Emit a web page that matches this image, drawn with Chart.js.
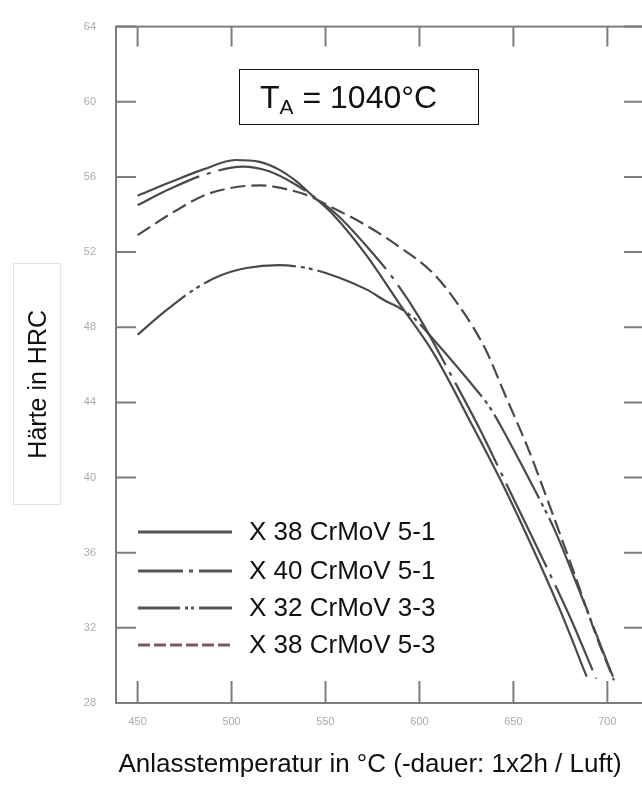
<!DOCTYPE html>
<html lang="de">
<head>
<meta charset="UTF-8">
<title>Anlasskurven</title>
<script src="https://cdn.jsdelivr.net/npm/chart.js@4.4.1/dist/chart.umd.min.js"></script>
<style>
  html, body { margin: 0; padding: 0; background: #fff; overflow: hidden; }
  body { width: 642px; height: 790px; position: relative; font-family: "Liberation Sans", Arial, sans-serif; color: #111; }
  #wrap { position: absolute; left: 0; top: 0; width: 660px; height: 790px; }
  #ta { position: absolute; left: 239px; top: 69px; width: 218px; height: 54px; padding-left: 20px;
        border: 1.5px solid #111; font-size: 32px; line-height: 54px; white-space: nowrap; }
  #ta .sub { font-size: 21px; position: relative; top: 6px; }
  #ytitle { position: absolute; left: 13px; top: 263px; width: 46px; height: 240px; border: 1px solid #e4e4e4;
            display: flex; align-items: center; justify-content: center; }
  #ytitle span { writing-mode: vertical-rl; transform: rotate(180deg); font-size: 25px; white-space: nowrap; }
  #xtitle { position: absolute; left: 70px; top: 748px; width: 600px; text-align: center; font-size: 26px;
            line-height: 30px; white-space: nowrap; }
</style>
</head>
<body>
<div id="wrap"><canvas id="chart" width="660" height="790"></canvas></div>
<div id="ta">T<span class="sub">A</span> = 1040°C</div>
<div id="ytitle"><span>Härte in HRC</span></div>
<div id="xtitle">Anlasstemperatur in °C (-dauer: 1x2h / Luft)</div>
<script>
// axis ticks
var xTicks = [450, 500, 550, 600, 650, 700];
var yTicks = [28, 32, 36, 40, 44, 48, 52, 56, 60, 64];

var names = ['X 38 CrMoV 5-1', 'X 40 CrMoV 5-1', 'X 32 CrMoV 3-3', 'X 38 CrMoV 5-3'];

// X 38 CrMoV 5-1 (solid)
var tempA = [450, 467, 485, 502, 515, 525, 534, 543, 554, 572, 589, 607, 628, 645, 660, 675, 689];
var hrcA  = [55.0, 55.7, 56.4, 56.9, 56.8, 56.4, 55.8, 55.0, 54.0, 51.8, 49.3, 46.7, 42.8, 39.5, 36.3, 32.9, 29.4];

// X 40 CrMoV 5-1 (dash-dot)
var tempB = [450, 467, 485, 506, 520, 534, 543, 556, 572, 586, 600, 616, 632, 648, 664, 680, 694];
var hrcB  = [54.5, 55.35, 56.1, 56.55, 56.3, 55.6, 55.0, 54.0, 52.3, 50.6, 48.5, 45.6, 42.6, 39.3, 36.0, 32.6, 29.3];

// X 32 CrMoV 3-3 (dash-dot-dot)
var tempC = [450, 464, 480, 494, 508, 525, 540, 557, 572, 582, 589, 598, 607, 620, 630, 637, 643, 650, 660, 672, 685, 699, 703];
var hrcC  = [47.6, 48.8, 50.0, 50.75, 51.15, 51.3, 51.15, 50.65, 50.0, 49.4, 49.05, 48.4, 47.4, 45.9, 44.7, 43.8, 42.8, 41.5, 39.6, 37.2, 34.0, 30.4, 29.4];

// X 38 CrMoV 5-3 (dashed)
var tempD = [450, 467, 485, 499, 515, 529, 541, 552, 572, 589, 607, 621, 635, 646, 658, 670, 682, 694, 703.5];
var hrcD  = [52.9, 54.0, 55.0, 55.4, 55.55, 55.35, 55.0, 54.45, 53.4, 52.3, 50.9, 49.15, 46.85, 44.3, 41.5, 38.3, 35.0, 31.6, 29.2];

function pts(xs, ys) {
    return xs.map(function (v, i) { return {x: v, y: ys[i]}; });
}

var lineColor = '#4a4a4a';
var dashes = [[], [93, 8, 4, 8], [95, 5, 4, 4, 4, 5], [15, 6]];
var dashOffsets = [0, 25, 33, 0];
var legendDashes = [[], [45, 6, 4, 6, 200], [42, 5, 3, 3, 3, 5, 200], [12, 4]];
var legendColors = ['#555', '#555', '#555', '#7a5a5e'];

// frame + inward tick marks like the printed diagram
var framePlugin = {
    id: 'frame',
    beforeDatasetsDraw: function (chart) {
        var ctx = chart.ctx, a = chart.chartArea, x = chart.scales.x, y = chart.scales.y;
        ctx.save();
        ctx.strokeStyle = '#7d7d7d';
        ctx.lineWidth = 2;
        ctx.strokeRect(a.left, a.top, a.right - a.left, a.bottom - a.top);
        ctx.beginPath();
        xTicks.forEach(function (v) {
            var px = x.getPixelForValue(v);
            ctx.moveTo(px, a.top); ctx.lineTo(px, a.top + 20);
            ctx.moveTo(px, a.bottom); ctx.lineTo(px, a.bottom - 22);
        });
        yTicks.forEach(function (v) {
            var py = y.getPixelForValue(v);
            ctx.moveTo(a.left, py); ctx.lineTo(a.left + 20, py);
            ctx.moveTo(a.right, py); ctx.lineTo(a.right - 20, py);
        });
        ctx.stroke();
        ctx.restore();
    }
};

var legendPlugin = {
    id: 'sampleLegend',
    afterDraw: function (chart) {
        var ctx = chart.ctx;
        var rows = [532, 571, 608, 645];
        ctx.save();
        names.forEach(function (name, i) {
            ctx.beginPath();
            ctx.setLineDash(legendDashes[i]);
            ctx.strokeStyle = legendColors[i];
            ctx.lineWidth = 3;
            ctx.moveTo(138, rows[i]);
            ctx.lineTo(232, rows[i]);
            ctx.stroke();
            ctx.setLineDash([]);
            ctx.fillStyle = '#111';
            ctx.font = '26px "Liberation Sans", Arial, sans-serif';
            ctx.textBaseline = 'middle';
            ctx.fillText(name, 249, rows[i] + 1);
        });
        ctx.restore();
    }
};

var series = [pts(tempA, hrcA), pts(tempB, hrcB), pts(tempC, hrcC), pts(tempD, hrcD)];

new Chart(document.getElementById('chart'), {
    type: 'line',
    data: {
        datasets: series.map(function (d, i) {
            return {
                label: names[i],
                data: d,
                borderColor: lineColor,
                borderWidth: 2.2,
                borderDash: dashes[i],
                borderDashOffset: dashOffsets[i],
                pointRadius: 0,
                fill: false,
                cubicInterpolationMode: 'monotone'
            };
        })
    },
    options: {
        responsive: false,
        animation: false,
        layout: {padding: {left: 0, top: 23, right: 16, bottom: 0}},
        plugins: {legend: {display: false}, tooltip: {enabled: false}},
        scales: {
            x: {
                type: 'linear', min: 438.5, max: 719.5,
                grid: {display: false, drawTicks: false},
                border: {display: false},
                ticks: {color: '#ababab', font: {size: 11}, padding: 12},
                afterBuildTicks: function (s) { s.ticks = xTicks.map(function (v) { return {value: v}; }); },
                afterFit: function (s) { s.height = 87; }
            },
            y: {
                min: 28, max: 64,
                grid: {display: false, drawTicks: false},
                border: {display: false},
                ticks: {color: '#ababab', font: {size: 11}, padding: 20},
                afterBuildTicks: function (s) { s.ticks = yTicks.map(function (v) { return {value: v}; }); },
                afterFit: function (s) { s.width = 116; }
            }
        }
    },
    plugins: [framePlugin, legendPlugin]
});
</script>
</body>
</html>
